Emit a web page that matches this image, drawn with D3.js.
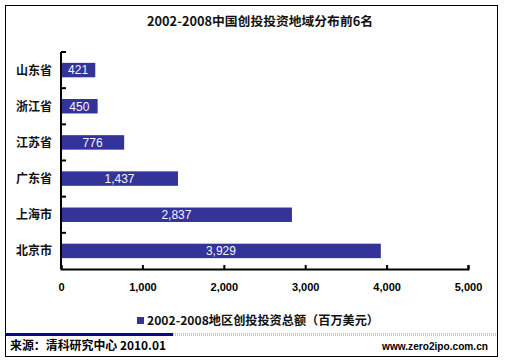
<!DOCTYPE html>
<html><head><meta charset="utf-8">
<script src="https://cdn.jsdelivr.net/npm/d3@7/dist/d3.min.js"></script>
<style>
html,body{margin:0;padding:0;background:#fff;}
svg{display:block;}
</style></head>
<body>
<script>
const categories = ["山东省","浙江省","江苏省","广东省","上海市","北京市"];
const values = [421, 450, 776, 1437, 2837, 3929];
const xTicks = [0, 1000, 2000, 3000, 4000, 5000];
const title = "2002-2008中国创投投资地域分布前6名";
const seriesName = "2002-2008地区创投投资总额（百万美元）";
const source = "来源：清科研究中心 2010.01";
const site = "www.zero2ipo.com.cn";

const W = 505, H = 363;
const cjk = "'Noto Sans CJK SC','Liberation Sans',Arial,sans-serif";
const lat = "'Liberation Sans',Arial,sans-serif";

const svg = d3.select("body").append("svg").attr("width", W).attr("height", H);
svg.append("rect").attr("width", W).attr("height", H).attr("fill", "#fff");
svg.append("rect").attr("x", 5.5).attr("y", 5.5).attr("width", 492).attr("height", 351)
  .attr("fill", "none").attr("stroke", "#000").attr("stroke-width", 1);

// title
svg.append("text").attr("x", 260).attr("y", 26).attr("text-anchor", "middle")
  .attr("font-family", cjk).attr("font-weight", "bold").attr("font-size", 12.5)
  .attr("fill", "#111").attr("textLength", 226).attr("lengthAdjust", "spacingAndGlyphs")
  .text(title);

const x = d3.scaleLinear().domain([0, 5000]).range([61, 468]);
const y = d3.scaleBand().domain(categories).range([52, 269]).paddingInner(0.6).paddingOuter(0.3);

// bars
svg.append("g").selectAll("rect").data(categories).join("rect")
  .attr("x", x(0)).attr("y", d => y(d))
  .attr("width", (d, i) => x(values[i]) - x(0))
  .attr("height", y.bandwidth())
  .attr("fill", "#333399");

// value labels
const fmt = d3.format(",");
svg.append("g").selectAll("text").data(categories).join("text")
  .attr("x", (d, i) => (x(0) + x(values[i])) / 2)
  .attr("y", d => y(d) + y.bandwidth() / 2)
  .attr("dy", "0.36em").attr("text-anchor", "middle")
  .attr("font-family", lat).attr("font-size", 12).attr("fill", "#f4f4ff")
  .text((d, i) => fmt(values[i]));

// x axis
const xAxis = d3.axisBottom(x).tickValues(xTicks).tickFormat(fmt)
  .tickSizeInner(-4).tickSizeOuter(-4).tickPadding(14);
const gx = svg.append("g").attr("transform", "translate(0,269)").call(xAxis);
gx.select(".domain").attr("stroke", "#000").attr("stroke-width", 2);
gx.selectAll(".tick line").attr("stroke", "#000").attr("stroke-width", 2);
gx.selectAll(".tick text").attr("font-family", lat).attr("font-weight", "bold")
  .attr("font-size", 11).attr("fill", "#000");

// y axis (ticks at category boundaries)
const step = y.step();
const bounds = categories.map(d => y(d) - y.paddingOuter() * step + (y.paddingOuter() - y.paddingInner() / 2) * 0);
const y0 = y.range()[0], y1 = y.range()[1];
const boundaryYs = categories.map((d, i) => y0 + i * (y1 - y0) / categories.length);
svg.append("line").attr("x1", 61).attr("x2", 61).attr("y1", y0).attr("y2", y1)
  .attr("stroke", "#000").attr("stroke-width", 2);
svg.append("g").selectAll("line").data(boundaryYs).join("line")
  .attr("x1", 61).attr("x2", 66).attr("y1", d => d).attr("y2", d => d)
  .attr("stroke", "#000").attr("stroke-width", 2);

// category labels
svg.append("g").selectAll("text").data(categories).join("text")
  .attr("x", 52).attr("y", d => y(d) + y.bandwidth() / 2)
  .attr("dy", "0.38em").attr("text-anchor", "end")
  .attr("font-family", cjk).attr("font-weight", "bold").attr("font-size", 12)
  .attr("fill", "#111").text(d => d);

// legend
svg.append("rect").attr("x", 137).attr("y", 317).attr("width", 7).attr("height", 7).attr("fill", "#333399");
svg.append("text").attr("x", 147).attr("y", 324.5)
  .attr("font-family", cjk).attr("font-weight", "bold").attr("font-size", 12)
  .attr("fill", "#111").attr("textLength", 232).attr("lengthAdjust", "spacingAndGlyphs")
  .text(seriesName);

// footer bar
svg.append("line").attr("x1", 173).attr("x2", 497).attr("y1", 334.5).attr("y2", 334.5)
  .attr("stroke", "#c8c8c8").attr("stroke-width", 3).attr("stroke-dasharray", "1,1");
svg.append("rect").attr("x", 6).attr("y", 333).attr("width", 167).attr("height", 3).attr("fill", "#0a0a80");

svg.append("text").attr("x", 10).attr("y", 350)
  .attr("font-family", cjk).attr("font-weight", "bold").attr("font-size", 12)
  .attr("fill", "#000").attr("textLength", 156).attr("lengthAdjust", "spacingAndGlyphs")
  .text(source);
svg.append("text").attr("x", 488).attr("y", 350).attr("text-anchor", "end")
  .attr("font-family", lat).attr("font-weight", "bold").attr("font-size", 11.5)
  .attr("fill", "#000").attr("textLength", 106).attr("lengthAdjust", "spacingAndGlyphs")
  .text(site);
</script>
</body></html>
